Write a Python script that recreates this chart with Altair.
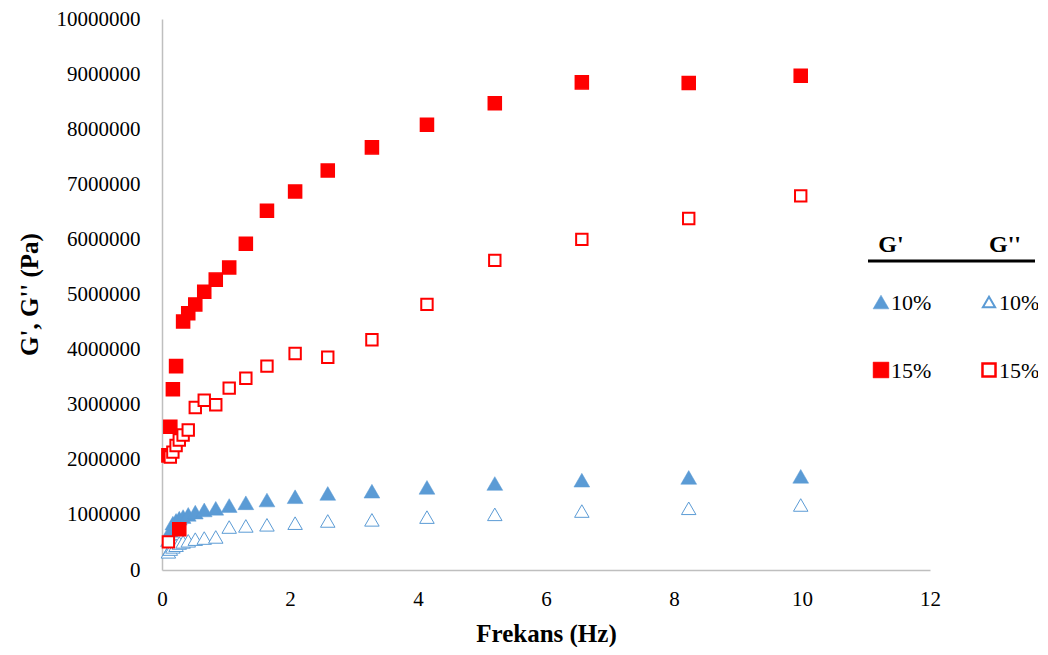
import altair as alt
import pandas as pd

# Frequencies (Hz)
freq = [0.10, 0.13, 0.17, 0.22, 0.27, 0.33, 0.41, 0.52, 0.66, 0.84, 1.05,
        1.31, 1.64, 2.08, 2.59, 3.28, 4.14, 5.20, 6.56, 8.23, 9.98]

# Moduli (Pa)
g1_10 = [550000, 720000, 850000, 900000, 940000, 970000, 1010000, 1050000, 1090000, 1120000, 1170000,
         1220000, 1270000, 1330000, 1390000, 1430000, 1500000, 1570000, 1630000, 1680000, 1700000]
g2_10 = [330000, 380000, 420000, 450000, 490000, 510000, 530000, 560000, 580000, 600000, 780000,
         800000, 820000, 850000, 890000, 910000, 960000, 1010000, 1070000, 1120000, 1180000]
g1_15 = [2080000, 2600000, 3280000, 3700000, 740000, 4510000, 4660000, 4820000, 5050000, 5270000, 5490000,
         5920000, 6520000, 6870000, 7250000, 7670000, 8080000, 8470000, 8850000, 8840000, 8970000]
g2_15 = [510000, 2050000, 2140000, 2260000, 2360000, 2450000, 2540000, 2950000, 3080000, 3000000, 3300000,
         3480000, 3700000, 3930000, 3860000, 4180000, 4820000, 5620000, 6000000, 6380000, 6790000]

series_names = ["G' 10%", "G'' 10%", "G' 15%", "G'' 15%"]
series_values = [g1_10, g2_10, g1_15, g2_15]
legend_labels = ["10%", "10%", "15%", "15%"]
legend_headers = ["G'", "G''"]
shapes = ["triangle-up", "triangle-up", "square", "square"]
fills = ["#5B9BD5", "white", "#FF0000", "white"]
strokes = ["#5B9BD5", "#5B9BD5", "#FF0000", "#FF0000"]
sizes = [250, 130, 250, 150]
stroke_widths = [0.5, 2, 0.5, 2.5]

x_ticks = [0, 2, 4, 6, 8, 10, 12]
y_ticks = [0, 1000000, 2000000, 3000000, 4000000, 5000000, 6000000, 7000000, 8000000, 9000000, 10000000]

rows = []
for name, vals in zip(series_names, series_values):
    for f, v in zip(freq, vals):
        rows.append({"freq": f, "val": v, "series": name})
df = pd.DataFrame(rows)

points = alt.Chart(df).mark_point(opacity=1).encode(
    x=alt.X("freq:Q", scale=alt.Scale(domain=[0, 12], nice=False),
            axis=alt.Axis(values=x_ticks, title="Frekans (Hz)", labelPadding=18, labelFlush=False,
                          titleBaseline="alphabetic", titleY=71)),
    y=alt.Y("val:Q", scale=alt.Scale(domain=[0, 10000000], nice=False),
            axis=alt.Axis(values=y_ticks, format="d", title="G', G'' (Pa)", labelPadding=22,
                          labelFlush=False,
                          titleBaseline="middle", titleX=-133, titleY=275)),
    shape=alt.Shape("series:N", scale=alt.Scale(domain=series_names, range=shapes), legend=None),
    fill=alt.Fill("series:N", scale=alt.Scale(domain=series_names, range=fills), legend=None),
    stroke=alt.Stroke("series:N", scale=alt.Scale(domain=series_names, range=strokes), legend=None),
    size=alt.Size("series:N", scale=alt.Scale(domain=series_names, range=sizes), legend=None),
    strokeWidth=alt.StrokeWidth("series:N", scale=alt.Scale(domain=series_names, range=stroke_widths), legend=None),
)

# ---- custom legend (header, rule, symbols, labels) ----
layers = [points]
head_x = [729, 843]
for hx, htxt in zip(head_x, legend_headers):
    layers.append(alt.Chart(pd.DataFrame({"h": [htxt]})).mark_text(
        font="Liberation Serif", fontSize=24, fontWeight="bold", color="black",
        baseline="middle", align="center"
    ).encode(text="h:N", x=alt.value(hx), y=alt.value(226)))
layers.append(alt.Chart(pd.DataFrame({"h": [0]})).mark_rule(color="black", strokeWidth=3).encode(
    x=alt.value(706), x2=alt.value(873), y=alt.value(242)))

sym_x = [719, 827, 719, 827]
sym_y = [283, 283, 351, 351]
for i in range(4):
    layers.append(alt.Chart(pd.DataFrame({"s": [series_names[i]]})).mark_point(
        shape=shapes[i], fill=fills[i], stroke=strokes[i], strokeWidth=stroke_widths[i],
        size=sizes[i] if i % 2 == 0 else sizes[i] + 20, opacity=1
    ).encode(x=alt.value(sym_x[i]), y=alt.value(sym_y[i])))
    layers.append(alt.Chart(pd.DataFrame({"t": [legend_labels[i]]})).mark_text(
        font="Liberation Serif", fontSize=22, color="black", baseline="middle", align="left"
    ).encode(text="t:N", x=alt.value(sym_x[i] + 10), y=alt.value(sym_y[i] + 1)))

chart = alt.layer(*layers).properties(
    width=768, height=551,
    autosize=alt.AutoSizeParams(type="none"),
    padding={"left": 154, "top": 11, "right": 108, "bottom": 77},
).configure_view(stroke=None).configure_axis(
    domainColor="#BFBFBF", domainWidth=1.5, grid=False, ticks=False, tickSize=0,
    labelFont="Liberation Serif", labelFontSize=21, labelColor="black",
    titleFont="Liberation Serif", titleFontSize=25, titleFontWeight="bold", titleColor="black",
)

chart.save("out.html", embed_options={"renderer": "svg", "actions": False})
